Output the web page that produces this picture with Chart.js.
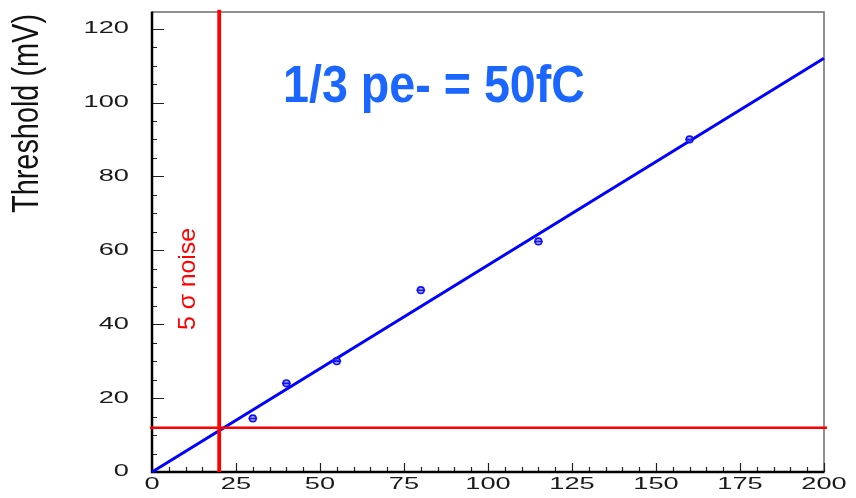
<!DOCTYPE html>
<html>
<head>
<meta charset="utf-8">
<script src="https://cdn.jsdelivr.net/npm/chart.js@4/dist/chart.umd.min.js"></script>
<style>
  html, body { margin: 0; padding: 0; background: #fff; }
  canvas { display: block; }
</style>
</head>
<body>
<canvas id="c" width="856" height="498"></canvas>
<script>
// Measured discriminator thresholds versus injected charge
const chargeFc = [30, 40, 55, 80, 115, 160];
const thresholdMv = [14.5, 24, 30, 49.2, 62.4, 90];
const chargeErrFc = [1.3, 1.3, 1.3, 1.3, 1.3, 1.3];

// Straight-line fit through the origin
const fitChargeFc = [0, 200];
const fitThresholdMv = [0, 112];

// 5 sigma noise level (charge / threshold)
const noiseChargeFc = 20;
const noiseThresholdMv = 12;
const noiseVerticalSpanMv = [0, 125.1];
const noiseHorizontalSpanFc = [-0.6, 200.9];

// Axis ranges and tick labels
const xRange = [0, 200];
const yRange = [0, 124.5];
const xTickValues = [0, 25, 50, 75, 100, 125, 150, 175, 200];
const yTickValues = [0, 20, 40, 60, 80, 100, 120];
const xMinorStep = 5;
const yMinorStep = 5;

const yAxisTitle = 'Threshold (mV)';
const noiseLabel = '5 σ noise';
const headline = '1/3 pe- = 50fC';

const BLUE = '#0000ff';
const RED = '#ff0000';

// Draws a string squeezed or stretched along its own direction to a given length
function fittedText(ctx, text, font, color, x, y, length, angle, align) {
  ctx.save();
  ctx.font = font;
  ctx.fillStyle = color;
  const w = ctx.measureText(text).width;
  ctx.translate(x, y);
  ctx.rotate(angle);
  ctx.scale(length / w, 1);
  ctx.textAlign = align || 'left';
  ctx.textBaseline = 'alphabetic';
  ctx.fillText(text, 0, 0);
  ctx.restore();
}

// Frame, inward tick marks and wide tick labels
const framePlugin = {
  id: 'frame',
  beforeDatasetsDraw(chart) {
    const { ctx, chartArea: a, scales: { x, y } } = chart;
    ctx.save();
    ctx.lineCap = 'butt';

    // top and right borders
    ctx.strokeStyle = '#6e6e6e';
    ctx.lineWidth = 1.5;
    ctx.beginPath();
    ctx.moveTo(a.left, a.top);
    ctx.lineTo(a.right, a.top);
    ctx.lineTo(a.right, a.bottom);
    ctx.stroke();

    // minor and major ticks
    ctx.strokeStyle = '#222';
    ctx.lineWidth = 1.2;
    ctx.beginPath();
    for (let v = xRange[0]; v <= xRange[1]; v += xMinorStep) {
      const px = Math.round(x.getPixelForValue(v)) + 0.5;
      const len = xTickValues.includes(v) ? 9 : 5;
      ctx.moveTo(px, a.bottom);
      ctx.lineTo(px, a.bottom - len);
    }
    for (let v = yRange[0]; v <= yRange[1]; v += yMinorStep) {
      const py = Math.round(y.getPixelForValue(v)) + 0.5;
      const len = yTickValues.includes(v) ? 12 : 5;
      ctx.moveTo(a.left, py);
      ctx.lineTo(a.left + len, py);
    }
    ctx.stroke();

    // left and bottom axes
    ctx.strokeStyle = '#000';
    ctx.lineWidth = 2.5;
    ctx.beginPath();
    ctx.moveTo(a.left, a.top - 0.5);
    ctx.lineTo(a.left, a.bottom);
    ctx.lineTo(a.right + 0.5, a.bottom);
    ctx.stroke();

    // tick labels
    ctx.fillStyle = '#1a1a1a';
    ctx.font = '16px "Liberation Sans", Arial, sans-serif';
    ctx.textBaseline = 'middle';
    const sx = 1.7;
    ctx.textAlign = 'center';
    xTickValues.forEach(v => {
      ctx.save();
      ctx.translate(x.getPixelForValue(v), a.bottom + 13);
      ctx.scale(sx, 1);
      ctx.fillText(String(v), 0, 0);
      ctx.restore();
    });
    ctx.textAlign = 'right';
    yTickValues.forEach(v => {
      ctx.save();
      ctx.translate(a.left - 23, y.getPixelForValue(v));
      ctx.scale(sx, 1);
      ctx.fillText(String(v), 0, 0);
      ctx.restore();
    });
    ctx.restore();
  },
  afterDatasetsDraw(chart) {
    // horizontal charge error bars on the measured points
    const { ctx, scales: { x, y } } = chart;
    ctx.save();
    ctx.strokeStyle = '#1010ff';
    ctx.lineWidth = 1.6;
    ctx.beginPath();
    chargeFc.forEach((c, i) => {
      const py = y.getPixelForValue(thresholdMv[i]);
      ctx.moveTo(x.getPixelForValue(c - chargeErrFc[i]), py);
      ctx.lineTo(x.getPixelForValue(c + chargeErrFc[i]), py);
    });
    ctx.stroke();
    ctx.restore();
  },
  afterDraw(chart) {
    const { ctx } = chart;
    fittedText(ctx, yAxisTitle, '36px "Liberation Sans", Arial, sans-serif', '#111',
      38, 213, 199, -Math.PI / 2);
    fittedText(ctx, noiseLabel, '24px "Liberation Sans", Arial, sans-serif', RED,
      195, 330, 102, -Math.PI / 2);
    fittedText(ctx, headline, 'bold 51px "Liberation Sans", Arial, sans-serif', '#1a66ff',
      283, 102, 302, 0);
  }
};

const fitPoints = fitChargeFc.map((c, i) => ({ x: c, y: fitThresholdMv[i] }));
const measured = chargeFc.map((c, i) => ({ x: c, y: thresholdMv[i] }));

new Chart(document.getElementById('c'), {
  type: 'scatter',
  data: {
    datasets: [
      {
        label: 'noise charge',
        type: 'line',
        data: noiseVerticalSpanMv.map(v => ({ x: noiseChargeFc, y: v })),
        borderColor: RED,
        borderWidth: 3.8,
        pointRadius: 0,
        clip: false,
        order: 0
      },
      {
        label: 'noise threshold',
        type: 'line',
        data: noiseHorizontalSpanFc.map(v => ({ x: v, y: noiseThresholdMv })),
        borderColor: RED,
        borderWidth: 2.5,
        pointRadius: 0,
        clip: false,
        order: 0
      },
      {
        label: 'measured',
        data: measured,
        pointStyle: 'circle',
        pointRadius: 3.3,
        borderWidth: 1.6,
        borderColor: '#1010ff',
        backgroundColor: 'rgba(110,110,255,0.6)',
        order: 1
      },
      {
        label: 'fit',
        type: 'line',
        data: fitPoints,
        borderColor: BLUE,
        borderWidth: 3,
        pointRadius: 0,
        clip: false,
        order: 2
      }
    ]
  },
  options: {
    responsive: false,
    devicePixelRatio: 1,
    animation: false,
    layout: { padding: { left: 152, right: 32, top: 12, bottom: 26 } },
    plugins: { legend: { display: false }, tooltip: { enabled: false } },
    scales: {
      x: { type: 'linear', min: xRange[0], max: xRange[1], display: false },
      y: { type: 'linear', min: yRange[0], max: yRange[1], display: false }
    }
  },
  plugins: [framePlugin]
});
</script>
</body>
</html>
